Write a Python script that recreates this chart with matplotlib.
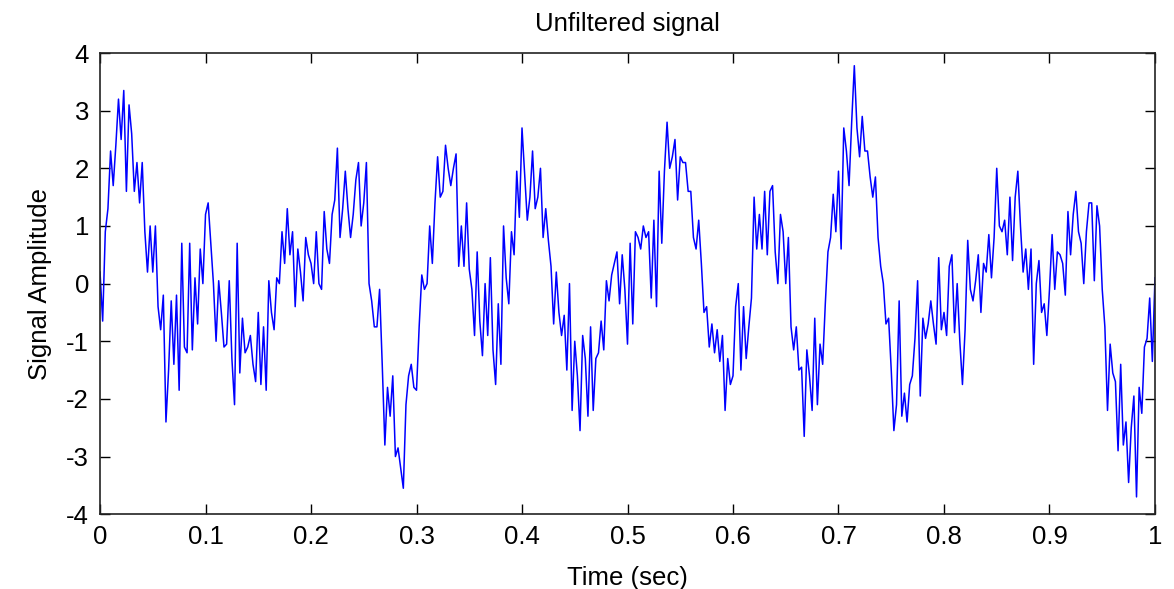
import numpy as np
import matplotlib
matplotlib.use("Agg")
import matplotlib.pyplot as plt

# signal amplitude, 40 samples per 0.1 s
seg1 = [0.2, -0.65, 0.9, 1.3, 2.3, 1.7, 2.4, 3.2, 2.5, 3.35, 1.6, 3.1, 2.6, 1.6, 2.1, 1.4, 2.1, 0.9, 0.2, 1.0,
        0.2, 1.0, -0.4, -0.8, -0.2, -2.4, -1.5, -0.3, -1.4, -0.2, -1.85, 0.7, -1.1, -1.2, 0.7, -1.15, 0.1, -0.7, 0.6, 0.0]
seg2 = [1.2, 1.4, 0.7, 0.0, -1.0, 0.05, -0.5, -1.1, -1.05, 0.05, -1.3, -2.1, 0.7, -1.55, -0.6, -1.2, -1.1, -0.9, -1.4, -1.7,
        -0.5, -1.75, -0.75, -1.85, 0.05, -0.5, -0.8, 0.1, 0.0, 0.9, 0.35, 1.3, 0.5, 0.9, -0.4, 0.6, 0.2, -0.3, 0.8, 0.5]
seg3 = [0.35, 0.0, 0.9, 0.0, -0.1, 1.25, 0.6, 0.35, 1.2, 1.45, 2.35, 0.8, 1.3, 1.95, 1.3, 0.8, 1.2, 1.8, 2.1, 1.0,
        1.4, 2.1, 0.0, -0.3, -0.75, -0.75, -0.1, -1.4, -2.8, -1.8, -2.3, -1.6, -3.0, -2.85, -3.2, -3.55, -2.1, -1.6, -1.4, -1.8]
seg4 = [-1.85, -0.75, 0.15, -0.1, 0.0, 1.0, 0.35, 1.4, 2.2, 1.5, 1.6, 2.4, 2.0, 1.7, 2.0, 2.25, 0.3, 1.0, 0.3, 1.4,
        0.25, -0.1, -0.9, 0.55, -0.65, -1.25, 0.0, -0.9, 0.45, -1.15, -1.75, -0.35, -1.4, 1.0, 0.1, -0.35, 0.9, 0.5, 1.95, 1.15]
seg5 = [2.7, 1.9, 1.1, 1.5, 2.3, 1.3, 1.5, 2.0, 0.8, 1.3, 0.75, 0.3, -0.7, 0.2, -0.5, -0.9, -0.55, -1.5, 0.0, -2.2,
        -1.0, -1.6, -2.55, -0.9, -1.3, -2.3, -0.75, -2.2, -1.3, -1.2, -0.65, -1.15, 0.05, -0.3, 0.15, 0.35, 0.55, -0.35, 0.5, -0.1]
seg6 = [-1.05, 0.7, -0.7, 0.9, 0.8, 0.6, 1.0, 0.8, 0.9, -0.25, 1.1, -0.4, 1.95, 0.7, 1.95, 2.8, 2.0, 2.2, 2.5, 1.45,
        2.2, 2.1, 2.1, 1.6, 1.6, 0.8, 0.6, 1.1, 0.35, -0.5, -0.4, -1.1, -0.7, -1.2, -0.8, -1.35, -0.9, -2.2, -1.3, -1.75]
seg7 = [-1.6, -0.4, 0.0, -1.5, -0.4, -1.3, -0.75, -0.25, 1.5, 0.6, 1.2, 0.6, 1.6, 0.5, 1.6, 1.7, 0.55, 0.0, 1.2, 0.9,
        0.0, 0.8, -0.75, -1.15, -0.75, -1.5, -1.45, -2.65, -1.15, -1.6, -2.2, -0.6, -2.1, -1.05, -1.4, -0.35, 0.55, 0.8, 1.55, 0.9]
seg8 = [1.95, 0.6, 2.7, 2.3, 1.7, 2.8, 3.78, 2.7, 2.2, 2.9, 2.3, 2.3, 1.85, 1.5, 1.85, 0.8, 0.3, 0.0, -0.7, -0.6,
        -1.5, -2.55, -2.1, -0.3, -2.3, -1.9, -2.4, -1.75, -1.6, -0.95, 0.05, -1.95, -0.6, -0.95, -0.7, -0.3, -0.7, -1.05, 0.45, -0.8]
seg9 = [-0.5, -0.9, 0.3, 0.5, -0.85, 0.0, -1.0, -1.75, -0.8, 0.75, -0.1, -0.3, 0.05, 0.5, -0.5, 0.35, 0.2, 0.85, 0.1, 0.8,
        2.0, 1.0, 0.9, 1.1, 0.5, 1.5, 0.4, 1.5, 1.95, 1.0, 0.2, 0.6, -0.1, 0.6, -1.4, 0.0, 0.4, -0.5, -0.35, -0.9]
seg10 = [-0.1, 0.85, -0.1, 0.55, 0.5, 0.35, -0.2, 1.25, 0.5, 1.2, 1.6, 0.9, 0.7, 0.0, 0.9, 1.4, 1.4, 0.05, 1.35, 1.0,
         -0.1, -0.75, -2.2, -1.05, -1.55, -1.7, -2.9, -1.4, -2.8, -2.4, -3.45, -2.5, -1.95, -3.7, -1.8, -2.25, -1.1, -0.95, -0.25, -1.35,
         0.1]

amp = np.array(seg1 + seg2 + seg3 + seg4 + seg5 + seg6 + seg7 + seg8 + seg9 + seg10)
t = np.linspace(0, 1, len(amp))

xticks = [0, 0.1, 0.2, 0.3, 0.4, 0.5, 0.6, 0.7, 0.8, 0.9, 1]
xlabels = ["0", "0.1", "0.2", "0.3", "0.4", "0.5", "0.6", "0.7", "0.8", "0.9", "1"]
yticks = [-4, -3, -2, -1, 0, 1, 2, 3, 4]

plt.rcParams["font.family"] = ["Liberation Sans", "DejaVu Sans"]
plt.rcParams["axes.unicode_minus"] = False

fig = plt.figure(figsize=(11.74, 5.89), dpi=100)
ax = fig.add_axes([0.0852, 0.127, 0.8986, 0.783])
ax.plot(t, amp, color="#0000ff", linewidth=1.1)

ax.set_xlim(0, 1)
ax.set_ylim(-4, 4)
ax.set_xticks(xticks)
ax.set_xticklabels(xlabels)
ax.set_yticks(yticks)
ax.tick_params(direction="in", length=7, width=1, top=True, right=True, labelsize=18.5)
ax.tick_params(axis="x", pad=8)
ax.tick_params(axis="y", pad=8)
for s in ax.spines.values():
    s.set_linewidth(1.2)
    s.set_color("#222222")

ax.set_title("Unfiltered signal", fontsize=18.5, pad=16)
ax.set_xlabel("Time (sec)", fontsize=18.5, labelpad=12)
ax.set_ylabel("Signal Amplitude", fontsize=18.5, labelpad=10)

fig.savefig("out.png", dpi=100)
